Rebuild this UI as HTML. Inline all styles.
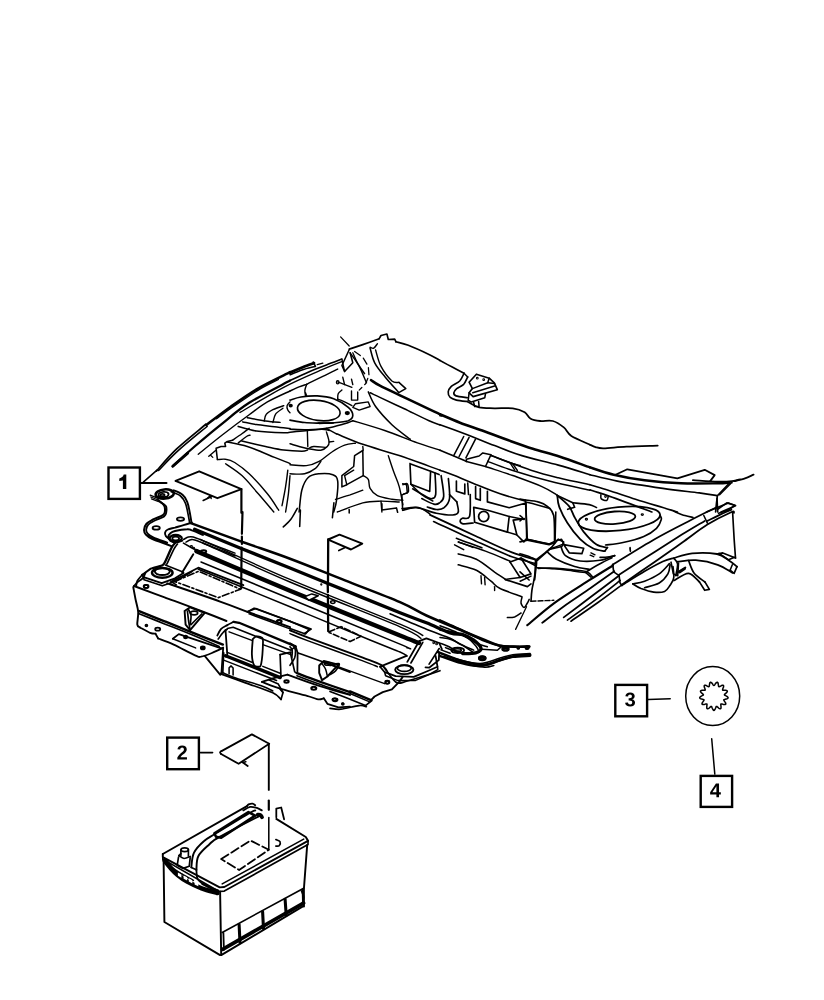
<!DOCTYPE html>
<html><head><meta charset="utf-8"><title>Diagram</title>
<style>
html,body{margin:0;padding:0;background:#fff;}
body{width:824px;height:1000px;overflow:hidden;font-family:"Liberation Sans",sans-serif;}
svg{display:block;}
svg path,svg ellipse,svg rect,svg line{fill:none;stroke:#000;stroke-linecap:round;stroke-linejoin:round;}
svg text{font-family:"Liberation Sans",sans-serif;font-weight:bold;fill:#000;stroke:none;}
</style></head><body>
<svg width="824" height="1000" viewBox="0 0 824 1000">
<rect x="0" y="0" width="824" height="1000" style="fill:#fff;stroke:none"/>
<g><!-- 00_callouts -->
<rect x="108.5" y="467.5" width="31.4" height="31.4" stroke-width="2.4" style="stroke-linejoin:miter"/>
<path d="M126.3 474.6L123.7 474.6C123.2 476.6 121.6 478 119.3 478.4L119.3 481L122.9 480.4L122.9 489.1L126.3 489.1Z" style="fill:#000;stroke:none"/>
<path d="M141 483.1L166.5 483.1" stroke-width="2"/>
<rect x="167.2" y="737.6" width="31.7" height="31.6" stroke-width="2.4" style="stroke-linejoin:miter"/>
<path d="M177.33 759.4V757.5Q177.87 756.31 178.86 755.19Q179.85 754.07 181.36 752.85Q182.8 751.68 183.38 750.91Q183.96 750.15 183.96 749.42Q183.96 747.62 182.16 747.62Q181.28 747.62 180.81 748.1Q180.35 748.57 180.21 749.52L177.45 749.36Q177.68 747.45 178.88 746.44Q180.08 745.44 182.14 745.44Q184.36 745.44 185.55 746.45Q186.75 747.47 186.75 749.3Q186.75 750.27 186.37 751.05Q185.98 751.83 185.39 752.49Q184.79 753.15 184.07 753.73Q183.34 754.3 182.65 754.85Q181.97 755.4 181.41 755.95Q180.85 756.51 180.57 757.14H186.96V759.4Z" style="fill:#000;stroke:none"/>
<path d="M200.4 752.6L212.6 752.6" stroke-width="1.6"/>
<rect x="615.3" y="684.9" width="31.8" height="31.4" stroke-width="2.4" style="stroke-linejoin:miter"/>
<path d="M635.04 702.58Q635.04 704.52 633.77 705.57Q632.5 706.62 630.16 706.62Q627.94 706.62 626.63 705.6Q625.32 704.58 625.1 702.66L627.89 702.42Q628.15 704.4 630.15 704.4Q631.13 704.4 631.68 703.91Q632.23 703.42 632.23 702.42Q632.23 701.5 631.56 701.01Q630.9 700.52 629.59 700.52H628.63V698.3H629.53Q630.71 698.3 631.31 697.82Q631.9 697.34 631.9 696.44Q631.9 695.59 631.43 695.11Q630.96 694.62 630.05 694.62Q629.2 694.62 628.68 695.09Q628.15 695.56 628.08 696.42L625.33 696.22Q625.55 694.45 626.81 693.44Q628.07 692.44 630.1 692.44Q632.26 692.44 633.47 693.41Q634.69 694.38 634.69 696.1Q634.69 697.39 633.93 698.22Q633.17 699.05 631.75 699.32V699.36Q633.33 699.54 634.18 700.4Q635.04 701.25 635.04 702.58Z" style="fill:#000;stroke:none"/>
<path d="M648.3 699.6L670.2 698.8" stroke-width="1.5"/>
<rect x="700.7" y="775.9" width="31.4" height="31" stroke-width="2.4" style="stroke-linejoin:miter"/>
<path d="M719.02 794.4V797.2H716.4V794.4H710.14V792.34L715.95 783.44H719.02V792.36H720.85V794.4ZM716.4 787.85Q716.4 787.33 716.44 786.71Q716.47 786.1 716.49 785.92Q716.23 786.47 715.57 787.5L712.38 792.36H716.4Z" style="fill:#000;stroke:none"/>
<path d="M711.7 738.8L714.8 774.1" stroke-width="1.5"/>
<ellipse cx="712.7" cy="696.1" rx="27" ry="29.5" stroke-width="1.5"/>
</g>
<g><!-- 01_gear -->
<path d="M726.4 696.1L727.1 696.5L727.6 696.9L728 697.4L728.1 697.8L727.9 698.2L727.4 698.6L726.8 698.9L726 699.1L725.2 699.3L724.5 699.4L724.1 699.6L723.8 699.9L723.8 700.2L724.1 700.7L724.5 701.2L724.9 701.9L725.4 702.6L725.7 703.2L725.8 703.8L725.7 704.2L725.3 704.5L724.7 704.6L724 704.5L723.2 704.4L722.4 704.1L721.8 704L721.3 703.9L720.9 704L720.8 704.4L720.8 704.9L720.9 705.6L721 706.3L721 707.1L721 707.9L720.9 708.4L720.5 708.8L720.1 708.8L719.5 708.6L718.9 708.3L718.3 707.7L717.7 707.2L717.2 706.7L716.8 706.4L716.4 706.4L716.2 706.6L715.9 707.1L715.7 707.7L715.4 708.5L715.1 709.2L714.7 709.8L714.3 710.3L713.9 710.4L713.5 710.3L713.1 709.8L712.7 709.2L712.4 708.5L712.1 707.7L711.9 707.1L711.6 706.6L711.4 706.4L711 706.4L710.6 706.7L710.1 707.2L709.5 707.7L708.9 708.3L708.3 708.6L707.7 708.8L707.3 708.8L706.9 708.4L706.8 707.9L706.8 707.1L706.8 706.3L706.9 705.6L707 704.9L707 704.4L706.9 704L706.5 703.9L706 704L705.4 704.1L704.6 704.4L703.8 704.5L703.1 704.6L702.5 704.5L702.1 704.2L702 703.8L702.1 703.2L702.4 702.6L702.9 701.9L703.3 701.2L703.7 700.7L704 700.2L704 699.9L703.7 699.6L703.3 699.4L702.6 699.3L701.8 699.1L701 698.9L700.4 698.6L699.9 698.2L699.7 697.8L699.8 697.4L700.2 696.9L700.7 696.5L701.4 696.1L702.2 695.7L702.8 695.4L703.2 695.1L703.4 694.8L703.3 694.5L702.9 694.1L702.4 693.6L701.8 693.1L701.2 692.6L700.8 692L700.5 691.5L700.5 691L700.8 690.7L701.4 690.5L702.1 690.3L702.9 690.3L703.7 690.3L704.4 690.3L704.9 690.3L705.2 690.1L705.2 689.7L705.1 689.2L704.9 688.6L704.6 687.8L704.3 687.1L704.2 686.4L704.2 685.8L704.4 685.4L704.8 685.2L705.4 685.3L706.1 685.5L706.8 685.9L707.5 686.2L708.1 686.6L708.6 686.7L709 686.7L709.2 686.4L709.3 685.9L709.4 685.3L709.5 684.5L709.6 683.7L709.8 683L710.1 682.5L710.5 682.2L710.9 682.3L711.4 682.6L711.9 683.1L712.4 683.7L712.8 684.4L713.2 685L713.6 685.4L713.9 685.5L714.2 685.4L714.6 685L715 684.4L715.4 683.7L715.9 683.1L716.4 682.6L716.9 682.3L717.3 682.2L717.7 682.5L718 683L718.2 683.7L718.3 684.5L718.4 685.3L718.5 685.9L718.6 686.4L718.8 686.7L719.2 686.7L719.7 686.6L720.3 686.2L721 685.9L721.7 685.5L722.4 685.3L723 685.2L723.4 685.4L723.6 685.8L723.6 686.4L723.5 687.1L723.2 687.8L722.9 688.6L722.7 689.2L722.6 689.7L722.6 690.1L722.9 690.3L723.4 690.3L724.1 690.3L724.9 690.3L725.7 690.3L726.4 690.5L727 690.7L727.3 691L727.3 691.5L727 692L726.6 692.6L726 693.1L725.4 693.6L724.9 694.1L724.5 694.5L724.4 694.8L724.6 695.1L725 695.4L725.6 695.7Z" stroke-width="1.5"/>
</g>
<g><!-- 10_b1 -->
<path d="M143.3 482.2 L157.3 469.8" stroke-width="1.54"/>
<path d="M156.4 471.1C159.7 467.4 168.2 457 176.4 449.2C184.7 441.4 201 428.5 205.9 424.3" stroke-width="1.79"/>
<path d="M158.6 470.5C161.8 467.3 169.8 458.2 177.9 450.9C185.9 443.5 202.1 430.6 207 426.5" stroke-width="1.54"/>
<path d="M205.9 424.3L207 426.5" stroke-width="1.28"/>
<path d="M206.4 425C210.5 421.9 222.4 412.6 231 406.5C239.7 400.3 248.5 394 258.3 388.3C268.2 382.6 284.7 374.9 290 372.2" stroke-width="2.56"/>
<path d="M216.5 418.8C218.9 417.1 224 413.1 231 408.3C238 403.5 250.4 394.9 258.3 390.1C266.2 385.3 275 381.3 278.4 379.5" stroke-width="1.28"/>
<path d="M172.8 466.2C176.4 462.9 186.4 453.6 194.6 446.5C202.8 439.4 212.8 431 221.9 423.8C231 416.5 237.9 410 249.2 402.8C260.6 395.6 283.2 384.3 290 380.6" stroke-width="2.3"/>
<path d="M172.8 466.2 L187.7 453.1" stroke-width="2.82"/>
<path d="M198.3 454.2C202.2 451 213.4 441.8 221.9 435.2C230.4 428.6 241.6 420.2 249.2 414.7C256.8 409.1 260.6 405.9 267.4 401.9C274.2 398 286.2 392.8 290 391" stroke-width="1.41"/>
<path d="M208.8 456.2L215.6 450.5" stroke-width="1.41"/>
<path d="M210.6 455.3L212.8 457.4" stroke-width="1.28"/>
<path d="M217.4 459.6L216.1 448.3L221 446.5L225.6 446.5L224.8 443.2L227.4 441.4L232.5 440.3" stroke-width="1.54"/>
<path d="M232.5 440.3C234.1 439.2 239.2 435.8 241.9 433.8C244.7 431.8 248 429.2 249.2 428.3" stroke-width="1.41"/>
<path d="M238.3 442.9C239.7 441.8 244.5 437.8 246.5 436.5C248.5 435.2 249.5 435.4 250.1 435.2" stroke-width="1.41"/>
<path d="M217.4 459.6C218.7 459.6 222.7 458.8 225.6 459.3C228.4 459.7 230.7 460.1 234.7 462.5C238.6 465 243.8 468.6 249.2 473.8C254.7 479 262.5 487.8 267.4 493.8C272.4 499.9 276.8 507.5 278.7 510.2" stroke-width="1.41"/>
<path d="M225.6 463.8C228.3 465.8 236.5 470.6 241.9 475.6C247.4 480.6 253 487.8 258.3 493.8C263.6 499.9 271.2 509 273.8 512" stroke-width="1.41"/>
<path d="M264.3 421C264.6 420 264.6 416.5 266 414.7C267.4 412.8 269.9 411.3 272.9 409.7C275.9 408.2 282 406.2 283.8 405.6" stroke-width="1.41"/>
<path d="M272.9 422.5C273.4 421.1 274 416.5 275.6 414.1C277.3 411.7 281.7 409.3 282.9 408.3" stroke-width="1.41"/>
<path d="M290 401.9C289.5 402.5 287.5 404.2 287.1 405.6C286.7 406.9 287.3 408.9 287.8 410.1C288.3 411.3 289.6 412.4 290 412.8" stroke-width="1.41"/>
<path d="M287.8 470.2C287.5 472.9 286.6 480.6 285.6 486.6C284.7 492.5 282.6 502.5 282 505.7" stroke-width="1.41"/>
<path d="M290 475.6C289.7 478.7 289.1 487.8 288.4 493.8C287.6 499.9 286.1 509 285.6 512" stroke-width="1.41"/>
</g>
<g><!-- 11_b2 -->
<path d="M290 372.6C292.1 371.7 298.7 368.9 302.7 367.3C306.7 365.7 312.1 363.8 314 363.1" stroke-width="2.82"/>
<path d="M313.3 362L315.5 366.4" stroke-width="1.54"/>
<path d="M290 374.8C292.1 373.9 298.6 371.1 302.7 369.7C306.9 368.3 313.1 367 315.1 366.4" stroke-width="1.54"/>
<path d="M290 380.6C293 379.2 302.1 374.8 308.2 372.2C314.3 369.6 320.8 367.1 326.4 365C332 362.8 339.3 360.1 341.9 359.1" stroke-width="1.66"/>
<path d="M317.3 364.6 L322.8 363.1" stroke-width="1.41"/>
<path d="M290 391C291.5 390.3 296.3 387.9 299.1 386.8C301.9 385.7 305.5 384.7 306.7 384.3" stroke-width="1.41"/>
<path d="M306.7 384.3C309.4 382.9 317.6 378.9 322.8 376.4C327.9 373.9 335.2 370.4 337.7 369.1" stroke-width="1.41"/>
<path d="M306.7 384.3C306.4 385.2 305.1 388.1 304.9 390.1C304.7 392 305.4 394.9 305.5 395.9" stroke-width="1.41"/>
<path d="M349.2 349.7L341.9 365.5L344.6 371.5L352.8 362.8L350.1 352.8" stroke-width="1.54"/>
<path d="M341.9 359.1L344.6 371.5" stroke-width="1.41"/>
<path d="M352.8 352.8C353.6 354.4 355.4 359.3 357.4 362.8C359.3 366.3 363.4 371.9 364.6 373.7" stroke-width="1.41"/>
<path d="M340.6 336.9L349.2 346" stroke-width="1.28"/>
<path d="M354.6 351.5L362.8 357.3L368.3 366.4L369 375.5L365.6 383.7L359.2 390.1" stroke-width="1.28" stroke-dasharray="7,4"/>
<path d="M349.2 349.1C351.4 348.4 357.8 346.3 362.8 344.6C367.8 342.8 376.5 339.7 379.2 338.7" stroke-width="1.66"/>
<path d="M379.2 338.7L381 335.5L386.9 334L388.3 339.5L394.7 339.1L396 341.8" stroke-width="1.66"/>
<path d="M396 341.8C398 342.4 402.7 343.1 408.3 345.3C414 347.5 424.7 352.4 430 354.9C435.3 357.5 438.3 359.5 440 360.4" stroke-width="1.66"/>
<path d="M370.1 347.3C370.7 347.4 372.5 348.8 373.7 348.2C375 347.6 376.8 344.4 377.4 343.7" stroke-width="1.41"/>
<path d="M370.1 348.2C370.9 350.6 372.2 358.1 374.7 362.8C377.1 367.5 380.7 371.6 384.7 376.4C388.6 381.3 396 389.3 398.3 391.9" stroke-width="1.54"/>
<path d="M398.3 392.8L405.8 388.6L398.9 382.4" stroke-width="1.54"/>
<path d="M375.6 350C376.5 352.8 378.3 361.3 381 366.4C383.8 371.6 389 378.3 391.9 381C394.9 383.6 397.7 382.2 398.9 382.4" stroke-width="1.41"/>
<path d="M350.1 352.8C351.6 355 356.4 361.4 359.2 366.4C361.9 371.4 365.2 380.1 366.5 382.8" stroke-width="1.41"/>
<path d="M371 380.1C372.5 381 374.4 382.8 379.9 385.7C385.5 388.6 396.2 393.5 404.3 397.4C412.4 401.2 422.6 406 428.5 408.8C434.5 411.6 438.1 413.4 440 414.3" stroke-width="2.56"/>
<path d="M368.3 391.9C369.5 394.3 371.6 401 375.6 406.5C379.5 411.9 386.2 419.2 391.9 424.7C397.7 430.1 407.1 436.8 410.2 439.2" stroke-width="1.54"/>
<path d="M337.7 381.9L351.9 387.3" stroke-width="1.41"/>
<ellipse cx="337.7" cy="382.2" rx="1.3" ry="1.6" stroke-width="1.28"/>
<path d="M351.5 391L351.5 400.1L357.7 400.1L357.7 391.9" stroke-width="1.41"/>
<path d="M342.8 377.3L344.6 384.6" stroke-width="1.41"/>
<path d="M351.5 379.2L352.8 384.6" stroke-width="1.41"/>
<path d="M341.9 390.1C341.3 390.7 338.9 392.2 338.2 393.7C337.5 395.2 337.8 398.3 337.7 399.2" stroke-width="1.41"/>
<path d="M337.7 399.2C338.9 399.6 342.2 400.8 344.6 401.9C347 403 350.7 404.9 351.9 405.6" stroke-width="1.41"/>
<path d="M355.5 403.7L368.3 401.9L370.1 406.5L359.2 410.1L352.8 407.4L355.5 403.7" stroke-width="1.41"/>
<path d="M290 400.1C291.8 399.6 296.4 397.7 300.9 397C305.5 396.3 311.8 395.6 317.3 395.9C322.8 396.2 328.5 396.9 333.7 398.8C338.9 400.7 345.1 404.6 348.3 407.4C351.4 410.1 352.8 413 352.8 415.2C352.8 417.4 351.4 419.4 348.3 420.7C345.1 421.9 338.5 422.4 333.7 422.8C328.8 423.3 321.6 423.1 319.1 423.2" stroke-width="1.66"/>
<path d="M319.1 423.2C316.7 423.1 309.4 423 304.6 422.5C299.7 422 292.4 420.5 290 420.1" stroke-width="1.66"/>
<ellipse cx="318.8" cy="410.5" rx="21.5" ry="10" stroke-width="1.66" transform="rotate(8 318.8 410.5)"/>
<path d="M317.3 422.5L333.7 421.9L333.7 423.6L319.1 424.3Z" style="fill:#000;stroke:none"/>
<ellipse cx="347.3" cy="413" rx="1.6" ry="1.1" stroke-width="2.05"/>
<ellipse cx="290.7" cy="405.6" rx="1.1" ry="0.9" stroke-width="2.05"/>
<path d="M306.7 395.9 L305.5 392.8" stroke-width="1.41"/>
<path d="M290 429.2C293 429.3 302.1 429.9 308.2 429.8C314.3 429.6 320.3 429.3 326.4 428.3C332.5 427.3 340.2 425 344.6 423.8C349 422.5 351.4 421.2 352.8 420.7" stroke-width="1.54"/>
<path d="M352.8 420.7C358.1 422.3 373.9 426.8 384.7 430.5C395.4 434.2 408.2 439.6 417.4 442.9C426.7 446.1 436.2 448.9 440 450.2" stroke-width="1.54"/>
<path d="M336.4 433.8C340.8 435.5 352.4 440.7 362.8 444.3C373.3 448 386.4 451.3 399.2 455.6C412.1 459.9 433.2 467.8 440 470.2" stroke-width="1.54"/>
<path d="M326.4 428.3 L336.4 433.8" stroke-width="1.41"/>
<path d="M307.3 429.8L307.8 446.5" stroke-width="1.41"/>
<path d="M290 443.8C291.5 444.2 296.1 445.7 299.1 446.5C302.1 447.3 304.6 448.1 308.2 448.7C311.8 449.3 317.8 450.5 320.9 450.2C324.1 449.8 326 447.9 327.3 446.5C328.7 445.1 329.3 444.4 329.1 442C329 439.5 326.9 433.6 326.4 431.9" stroke-width="1.41"/>
<path d="M308.2 448.7C309.1 448.3 310.6 446.7 313.7 446.5C316.7 446.3 324.3 447.3 326.4 447.4" stroke-width="1.41"/>
<path d="M329.1 442 L333.7 441.4" stroke-width="1.41"/>
<path d="M290 464.7C292.7 464.9 301.5 466.2 306.4 465.6C311.2 465.1 314.9 463.7 319.1 461.4C323.4 459.2 327.6 454.7 331.9 452C336.1 449.2 340.7 446.5 344.6 445.1C348.6 443.6 353.7 443.5 355.5 443.2" stroke-width="1.41"/>
<path d="M290 473.8C292.4 473.8 300.3 474.7 304.6 473.8C308.8 472.9 312.8 470.4 315.5 468.4C318.2 466.3 320 462.6 320.9 461.4" stroke-width="1.41"/>
<path d="M299.1 512C299.6 508.4 300.3 496 301.8 490.2C303.4 484.4 305.3 480.2 308.2 477.5C311.1 474.7 315 474.3 319.1 473.8C323.2 473.4 329.7 473.5 332.8 474.7C335.9 475.9 337.1 476.7 337.7 481.1C338.3 485.5 337.1 496 336.4 501.1C335.8 506.3 334.1 510.2 333.7 512" stroke-width="1.54"/>
<path d="M341.9 475.6L353.7 466.5L354.6 455.6L362.8 450.5L363.2 475.6L346.8 484.7L341.9 486.9L341.9 475.6" stroke-width="1.54"/>
<path d="M346.8 484.7L344.6 475.6L353.7 470.2" stroke-width="1.41"/>
<path d="M363.2 475.6C364 476.2 367.1 477.2 368.3 479.3C369.4 481.4 368.6 485.7 370.1 488.4C371.6 491.1 373.7 493.8 377.4 495.7C381 497.5 387.7 498.5 391.9 499.3C396.2 500.1 401.1 500.1 402.9 500.2" stroke-width="1.41"/>
<path d="M388.3 455.6C389.2 458.3 391.9 466.8 393.8 472C395.6 477.2 397.7 481.1 399.2 486.6C400.7 492 402.3 501.7 402.9 504.8" stroke-width="1.41"/>
<path d="M402.9 484.7C403.6 484.6 406.5 482.6 407.4 483.8C408.3 485 408.9 490.4 408.3 492C407.7 493.7 404.5 493.5 403.8 493.8" stroke-width="1.41"/>
<path d="M335.5 499.3C337.9 498.5 345.5 496.3 350.1 494.8C354.6 493.2 360.7 491 362.8 490.2" stroke-width="1.41"/>
<path d="M337.3 512C341.6 510.5 355.5 504.8 362.8 502.9C370.1 501.1 375 501.3 381 501.1C387.1 501 396.2 501.9 399.2 502" stroke-width="1.41"/>
<path d="M381 501.1L381.9 512" stroke-width="1.41"/>
<path d="M363.2 450.2 L362.8 446.5" stroke-width="1.41"/>
<path d="M370.1 392.8C371.7 393.6 374.2 394.7 379.9 397.4C385.6 400 396.2 405 404.3 408.8C412.4 412.7 422.6 417.8 428.5 420.5C434.5 423.2 438.1 424.3 440 425" stroke-width="1.54"/>
</g>
<g><!-- 12_b3 -->
<path d="M440 360.6C442.1 361.7 448.7 365.2 452.7 367.3C456.7 369.4 462.1 372.3 464 373.3" stroke-width="1.66"/>
<path d="M464 373.3C463.3 374.6 461.8 378.8 459.7 381C457.5 383.2 453.2 384.6 451.3 386.4C449.4 388.3 448.4 390.1 448.2 391.9C448 393.7 448.8 396 450.2 397.4C451.6 398.7 453.5 399.4 456.4 400.1C459.2 400.8 465.5 401.3 467.3 401.5" stroke-width="1.66"/>
<path d="M467.7 377C467 378.2 465.5 382.3 463.7 384.3C461.8 386.2 458.4 387.2 456.7 388.6C455.1 390 454 391.6 453.8 392.8C453.7 394 453.8 395.1 456 395.9C458.3 396.7 465.4 397.4 467.3 397.7" stroke-width="1.66"/>
<path d="M464 373.3L467.7 377" stroke-width="1.54"/>
<path d="M469.1 382.2L476.4 374.2L489.2 378.2L494.3 382.8L497.3 389.7L473.1 396.6L469.1 392.8L472.4 388.6L469.1 382.2" stroke-width="1.66"/>
<path d="M472.4 388.6L487.7 382.8L489.2 378.2" stroke-width="1.54"/>
<path d="M487.7 382.8L494.6 383.5" stroke-width="1.54"/>
<path d="M472.8 392.8L494.6 386.1" stroke-width="1.54"/>
<ellipse cx="477.3" cy="378.2" rx="0.5" ry="0.5" stroke-width="1.79"/>
<ellipse cx="483.7" cy="379.7" rx="0.5" ry="0.5" stroke-width="1.79"/>
<path d="M469.1 392.8L468.2 400.1L471.3 402.1L484.8 397.7L485.5 393.7" stroke-width="1.54"/>
<path d="M473.7 402.5L474.6 406.5L479.1 406.5L478.6 401.4" stroke-width="1.54"/>
<path d="M467.3 401.5C469.3 402.5 474.6 406.2 479.1 407.4C483.7 408.5 489 408.1 494.6 408.3C500.2 408.4 507.8 407.6 512.8 408.3C517.8 408.9 521.7 410.5 524.7 412.3C527.6 414 528.1 417.4 530.7 418.8C533.2 420.3 536.4 420.7 540.1 421C543.8 421.4 548.9 420 552.9 421C556.8 422.1 560.7 424.9 563.8 427.4C566.9 429.9 567.1 433.1 571.4 436C575.8 438.8 586.9 443.2 590 444.7" stroke-width="1.79"/>
<path d="M440 414.3C443.3 415.7 452.7 419.8 460 422.7C467.4 425.5 476.2 428.3 484.2 431.2C492.3 434.2 500.3 437.4 508.5 440.3C516.6 443.2 524.3 446 532.8 448.7C541.4 451.4 550.4 453.6 560 456.7C569.5 459.8 585 465.7 590 467.4" stroke-width="2.56"/>
<path d="M440 424.7C444.6 426.3 458.2 431.2 467.3 434.7C476.4 438.2 485.5 442.1 494.6 445.6C503.7 449.1 511.3 452.4 521.9 455.6C532.5 458.9 547 461.9 558.3 465.1C569.7 468.3 584.7 473.1 590 474.7" stroke-width="1.66"/>
<path d="M440 415.6 L441.8 415.9" stroke-width="1.66"/>
<path d="M463.7 436.5L453.7 455.6" stroke-width="1.54"/>
<path d="M469.1 437.4L459.1 456.5" stroke-width="1.54"/>
<path d="M475.5 439.2L465.9 457.8" stroke-width="1.54"/>
<path d="M466.4 459.3L479.1 456L482.8 452.9L491 454.7L485.5 466.5L466.4 461.4L466.4 459.3" stroke-width="1.54"/>
<path d="M491 455.3C494 456.5 504.3 460.8 509.2 462.5C514 464.3 518.3 465.1 520.1 465.6" stroke-width="1.54"/>
<path d="M510.1 462.9L514.6 469.8" stroke-width="1.41"/>
<path d="M512.8 463.8L517.4 470.5" stroke-width="1.41"/>
<path d="M491 455.6C497.6 458 519.8 466.5 531 470.2C542.3 473.9 548.5 475.4 558.3 477.8C568.2 480.3 584.7 483.6 590 484.7" stroke-width="1.54"/>
<path d="M487.7 461.4C491.9 463 502.6 467.3 512.8 470.5C523.1 473.8 536.4 477.8 549.2 481.1C562.1 484.4 583.2 488.7 590 490.2" stroke-width="1.54"/>
<path d="M440 450.2C442.1 451.1 448.3 453.7 452.7 455.6C457.1 457.5 464.1 460.5 466.4 461.4" stroke-width="1.66"/>
<path d="M440 470.2C442.4 471.1 448.5 473.2 454.6 475.6C460.6 478.1 468.8 481.7 476.4 484.7C484 487.8 491.9 491.1 500.1 493.8C508.3 496.6 521.3 499.9 525.6 501.1" stroke-width="1.66"/>
<path d="M485.5 466.5C490.1 468.1 503.4 472.3 512.8 475.6C522.2 479 534.7 483.4 541.9 486.6C549.2 489.7 554.1 493.4 556.5 494.8" stroke-width="1.54"/>
</g>
<g><!-- 13_b4 -->
<path d="M590 444.7C590.9 445.1 593.2 446.5 595.5 447.1C597.7 447.7 598.5 448.4 603.7 448.3C608.8 448.3 617.4 447.1 626.4 446.7C635.4 446.2 652.5 445.8 657.7 445.6" stroke-width="1.79"/>
<path d="M590 467.4C593.9 468.7 604.6 472.6 613.7 474.7C622.8 476.9 633.4 478.8 644.6 480.2C655.8 481.6 668.9 482.8 681 483.3C693.2 483.8 709.4 483.4 717.4 483.3C725.5 483.2 727.3 482.7 729.3 482.6" stroke-width="2.43"/>
<path d="M692.9 480.2C697 480.4 710.9 481.5 717.4 481.6C724 481.8 728.2 481.5 732 481.1C735.8 480.7 738.7 479.6 740 479.3" stroke-width="1.79"/>
<path d="M615.5 474.7L627.3 469.3L677.4 478.4L704.7 469.8L714.7 475.1L710.2 481.1" stroke-width="1.79"/>
<path d="M590 474.7C594.6 475.8 605.2 478.8 617.3 481.1C629.4 483.4 649.2 486.4 662.8 488.4C676.5 490.4 690.1 491.7 699.2 492.9C708.3 494.1 714.4 495.2 717.4 495.7" stroke-width="1.66"/>
<path d="M717.4 495.7L728.7 483.8L732 482.6" stroke-width="1.66"/>
<path d="M719.6 494.8L730.5 483.8" stroke-width="1.54"/>
<path d="M717.4 495.7C717.3 496.9 716.8 500.2 716.5 502.9C716.2 505.7 715.8 510.5 715.6 512" stroke-width="1.66"/>
<path d="M590 484.7C593 485.7 600.6 487.8 608.2 490.2C615.8 492.6 626.4 496.4 635.5 499.3C644.6 502.2 655.8 505.4 662.8 507.5C669.8 509.6 675 511.3 677.4 512" stroke-width="1.66"/>
<path d="M590 489.8C594.2 491.3 606.4 495.1 615.5 498.4C624.6 501.6 638.5 507 644.6 509.3C650.7 511.6 650.7 511.6 651.9 512" stroke-width="1.66"/>
<path d="M600.9 494.8C601 495.5 600.3 498 601.3 498.9C602.3 499.9 605.6 500.8 606.7 500.4C607.9 500 608 497.2 608.2 496.6" stroke-width="1.54"/>
<ellipse cx="605.5" cy="496.6" rx="0.5" ry="0.5" stroke-width="1.66"/>
<path d="M706.5 512L728.4 502.9L735.6 505.7L721.1 512" stroke-width="1.66"/>
</g>
<g><!-- 14_b5 -->
<path d="M734.1 481.2C735.9 480.7 741.8 479.4 745 478.3C748.2 477.2 752.1 475.2 753.6 474.6" stroke-width="1.79"/>
<path d="M717 498.3L717.7 512" stroke-width="1.66"/>
<path d="M717.7 509.2L726.8 502.9L735 505.2L728.6 510.1L718.6 513.2" stroke-width="1.66"/>
<path d="M674 511.4C675.8 512.1 681.7 514.6 684.9 515.6C688.1 516.6 691.7 517.1 693.1 517.4" stroke-width="1.54"/>
<path d="M732.6 512C732.9 516.4 733.6 530.7 734.1 538.4C734.6 546 735.3 554.7 735.5 558" stroke-width="1.66"/>
<path d="M735.5 558L722.8 552.9L717 554" stroke-width="1.66"/>
<path d="M719.1 553.3L728.6 559.8L734.4 557.3" stroke-width="1.54"/>
<path d="M674 558C677 557.2 685 554 692.2 553.3C699.4 552.6 710.9 552.9 717 554C723 555.2 725.3 558.1 728.6 560.2C732 562.3 735.6 565.5 737 566.6" stroke-width="1.79"/>
<path d="M737 566.6L734.1 573.3L730.1 570.2" stroke-width="1.66"/>
<path d="M677.6 561.7C680.7 561.4 689.2 559.7 695.8 560.2C702.5 560.7 711.6 562.6 717.7 564.8C723.8 566.9 730.1 571.6 732.6 572.9" stroke-width="1.79"/>
<path d="M730.1 570.2L732.3 564.8" stroke-width="1.54"/>
<path d="M674 558.4C674.6 559.3 677.3 561 677.6 563.8C677.9 566.7 676.1 573.7 675.8 575.7" stroke-width="1.66"/>
<path d="M688.6 560.6C689.5 562.6 691.3 569.4 694 572.9C696.8 576.5 703.1 580.5 704.9 582" stroke-width="1.66"/>
<path d="M678 572L685.3 567.5" stroke-width="2.05"/>
<path d="M674 580.6C676.4 579.4 684.3 573.1 688.6 573.3C692.8 573.6 697.7 580.6 699.5 582" stroke-width="1.66"/>
</g>
<g><!-- 15_lab1 -->
<path d="M175.5 480.9L199.2 471.3L241.4 489.1L217.4 498.2L175.5 480.9" stroke-width="1.92"/>
<path d="M241.4 489.1L241.4 512.8" stroke-width="2.18"/>
<path d="M203.2 500.4L211.6 496.4" stroke-width="1.66"/>
<path d="M207.4 498.2L210.1 495.7L211.2 498.6" stroke-width="1.41"/>
</g>
<g><!-- 16_lrails -->
<path d="M242.8 421.9C245 422.3 251.1 423.8 256.4 424.6C261.7 425.4 269 426.1 274.6 426.8C280.2 427.5 287.5 428.3 290.1 428.6" stroke-width="1.54"/>
<path d="M238.2 426.4C241.2 427.2 248.8 429.9 256.4 431C264 432 278.1 432.6 283.7 432.8C289.3 433 286.1 432.7 290.1 432.3C294 431.9 302.1 430.9 307.4 430.4C312.7 430 318.3 429.3 321.9 429.3C325.6 429.3 328 430.3 329.2 430.4" stroke-width="1.54"/>
<path d="M241.8 441C245.8 441.9 258.5 444.9 265.5 446.5C272.5 448 277.6 449.3 283.7 450.1C289.8 450.9 298 451.2 301.9 451.2C305.9 451.2 306.5 450.3 307.4 450.1" stroke-width="1.54"/>
<path d="M227.3 441.9C230.6 442.7 239.4 443.9 247.3 446.5C255.2 449 267.5 454.5 274.6 457.4C281.7 460.2 287.5 462.5 290.1 463.6" stroke-width="1.54"/>
<path d="M247.3 417.7C250.3 418.2 260.1 420.2 265.5 421C271 421.8 277.6 422.2 280.1 422.4" stroke-width="1.41"/>
<path d="M240 412.4C247.3 408.2 270.1 394.4 283.7 387.3C297.3 380.2 311.8 374.1 321.5 369.9C331.3 365.6 338.5 362.9 341.9 361.6" stroke-width="1.41"/>
</g>
<g><!-- 23_c3 -->
<path d="M430 514.9C437.6 518.4 461.8 529.8 475.5 536C489.2 542.3 501.6 548.4 511.9 552.4C522.2 556.4 533.1 558.8 537.4 560.1" stroke-width="1.79"/>
<path d="M433.6 521.5C440.6 524.7 462.5 535.1 475.5 540.9C488.5 546.8 502 553.1 511.9 556.8C521.8 560.5 530.9 562.2 534.7 563.3" stroke-width="1.66"/>
<path d="M458.2 542C462.8 543.6 476.9 548 485.5 551.1C494.2 554.3 506 559.5 510.1 561.2" stroke-width="1.54"/>
<path d="M458.2 553.9C461.2 554.8 470.3 556.3 476.4 559.3C482.5 562.4 489.8 568.7 494.6 572.1C499.5 575.4 503.7 578.1 505.5 579.4" stroke-width="1.54"/>
<path d="M458.2 564.8C461.2 565.7 470.9 567.5 476.4 570.3C481.9 573 487 578.1 491 581.2C494.9 584.2 494.9 585.9 500.1 588.5C505.2 591 518.3 595.3 521.9 596.7" stroke-width="1.54"/>
<path d="M481 575.7L481.5 583.9" stroke-width="1.41"/>
<path d="M484.6 577.5L485.1 584.8" stroke-width="1.41"/>
<path d="M494.6 586.6L494.6 590.6" stroke-width="1.41"/>
<path d="M527.4 539.3L549.2 544L555.1 541.1L555.8 512" stroke-width="1.54"/>
<path d="M510.1 562.1L521 557.9L534.7 565.2" stroke-width="1.66"/>
<path d="M510.1 562.1L520.1 577.5L531 573.9L521 558.2" stroke-width="1.66"/>
<path d="M520.1 577.5L505.2 579.4" stroke-width="1.54"/>
<path d="M505.5 579.7L527.4 586.6L531 583.9" stroke-width="1.66"/>
<path d="M520.1 581.2L531 576.1" stroke-width="1.54"/>
<path d="M535.6 560.2C535.4 562.8 535.3 570.7 534.7 575.7C534.1 580.7 532.5 586 531.9 590.3C531.3 594.5 531.2 599.4 531 601.2" stroke-width="1.66"/>
<path d="M531 601.2L541.9 600.8L553.8 600.3" stroke-width="1.41" stroke-dasharray="5,2"/>
<path d="M535.6 560.2C537.1 559 542 555.1 544.7 553C547.3 550.8 550.3 548.4 551.4 547.5" stroke-width="1.54"/>
<path d="M549.2 549.3L556.5 546.6L563.8 543.9L561.6 539.3L556.5 540.4" stroke-width="1.54"/>
<path d="M526.5 606.7L515.6 629.4" stroke-width="1.28"/>
<path d="M507.4 617.6C508.6 617.5 512.4 617.6 514.6 616.9C516.9 616.1 520 613.7 521 613" stroke-width="1.54"/>
<path d="M521.9 597.6C521.8 598.5 520.6 601.4 521 603C521.4 604.7 523 607.6 524.1 607.6C525.2 607.6 526.5 604.4 527.4 603C528.2 601.7 528.9 600 529.2 599.4" stroke-width="1.54"/>
<path d="M440 620.3C443 621.7 450.6 625 458.2 628.5C465.8 632 478.5 638.4 485.5 641.3C492.5 644.1 495.5 644.9 500.1 645.8C504.6 646.7 508 646.6 512.8 646.7C517.7 646.9 526.5 646.7 529.2 646.7" stroke-width="2.3"/>
<path d="M440 625.8C443 627 452.1 630.2 458.2 633.1C464.3 635.9 471.6 640.8 476.4 643.1C481.3 645.4 485.5 646.1 487.3 646.7" stroke-width="1.54"/>
<path d="M440 655.8C443 656.9 451.5 660.5 458.2 662.2C464.9 663.9 473.1 666.3 480.1 666C487 665.7 494.6 661.9 500.1 660.4C505.5 658.9 507.8 657.7 512.8 656.9C517.8 656.2 527.2 656 530.1 655.8" stroke-width="2.43"/>
<path d="M440 653.1C443 654.2 451.5 657.7 458.2 659.5C464.9 661.2 473.1 663.7 480.1 663.5C487 663.2 494.6 659.5 500.1 658C505.5 656.5 507.8 655.5 512.8 654.7C517.8 654 527.2 653.8 530.1 653.6" stroke-width="1.54"/>
<ellipse cx="505.5" cy="648.9" rx="3.1" ry="1.5" stroke-width="2.3"/>
<ellipse cx="482.2" cy="658" rx="3.1" ry="1.5" stroke-width="2.3"/>
<ellipse cx="518.3" cy="647.6" rx="0.9" ry="0.7" stroke-width="2.05"/>
<ellipse cx="527.4" cy="647.6" rx="1.3" ry="1.1" stroke-width="2.3"/>
<path d="M440 630.3C442.4 630.6 450 630.9 454.6 632.2C459.1 633.4 463.7 635.2 467.3 637.6C470.9 640 474.4 644.3 476.4 646.7C478.4 649.1 478.7 651.3 479.1 652.2" stroke-width="1.54"/>
<path d="M440 637.6C441.8 637.9 447.3 638.2 450.9 639.4C454.6 640.6 458.2 642.8 461.8 644.9C465.5 647 470.9 651 472.8 652.2" stroke-width="1.54"/>
<path d="M440 643.1C441.5 643.7 446.1 645.2 449.1 646.7C452.1 648.2 454.9 651 458.2 652.2C461.5 653.4 465.6 654 469.1 654C472.6 654 477.5 652.5 479.1 652.2" stroke-width="1.54"/>
<path d="M445.5 647.6C446.7 648.1 450.3 649.8 452.7 650.4C455.2 651 458.8 651.1 460 651.3" stroke-width="1.54"/>
</g>
<g><!-- 24_c4 -->
<path d="M630.1 547.5L630.4 551.1" stroke-width="1.41"/>
<path d="M621.9 585.2C625.7 582.9 637.8 575.3 644.6 571.3C651.4 567.4 657.9 563.7 662.8 561.5C667.7 559.3 672.1 558.6 673.9 558.1" stroke-width="1.79"/>
<path d="M632.8 583.9C634.8 583.5 640.2 582.8 644.6 581.2C649 579.5 655.1 576.8 659.2 573.9C663.3 571 667.7 565.4 669.4 563.7" stroke-width="1.66"/>
<path d="M632.8 583.9C634.1 584.7 637.5 587.1 641 588.5C644.5 589.8 649.8 591.6 653.7 592.1C657.7 592.6 661.9 592.5 664.6 591.4C667.4 590.2 668.6 587.4 670.1 585.2C671.6 582.9 673.3 581 673.7 577.9C674.2 574.8 673.1 568.5 673 566.6" stroke-width="1.66"/>
<path d="M644.6 587.7C647 586.9 655.3 585.3 659.2 583C663.1 580.7 666.1 576.9 667.9 573.9C669.7 570.9 669.7 566.3 670.1 564.8" stroke-width="1.66"/>
<path d="M671 562.2L673.4 573.9L677.7 575.7L678.5 563" stroke-width="1.66"/>
<path d="M679.6 572.1L684.7 568.8" stroke-width="2.56"/>
<path d="M704.9 581.9L709.4 589.4L704.7 590.3L699.4 581.9" stroke-width="1.66"/>
</g>
<g><!-- 25_rails -->
<path d="M612.7 564.6C619.7 560.4 641.6 546.6 654.6 539.2C667.7 531.7 680.7 525.3 691 520C701.3 514.7 712.3 509.4 716.5 507.3" stroke-width="1.79"/>
<path d="M619.1 574.7C625 570.9 644.1 558.6 654.6 551.9C665.1 545.2 673.6 539.8 681.9 534.6C690.3 529.4 700.9 523.2 704.7 520.9" stroke-width="1.79"/>
<path d="M703.8 515.5L707.4 523.1" stroke-width="1.54"/>
<path d="M707.4 520.9C709.5 519.9 716.1 516.5 720.2 514.6C724.2 512.7 729.6 510.5 731.4 509.7" stroke-width="1.79"/>
<path d="M621.8 584.7C627.3 580.9 644.6 568.9 654.6 561.9C664.6 554.9 673.1 549 681.9 542.8C690.7 536.6 699.2 529.7 707.4 524.6C715.6 519.5 726.6 514.2 731.1 512.2C735.5 510.3 733.5 512.8 734 512.9" stroke-width="1.79"/>
<path d="M612.7 564.6L613.7 571.9L619.1 575.6L620 582.8L621.8 585.6" stroke-width="1.66"/>
</g>
<g><!-- 26_fw -->
<path d="M410 463.7L430.6 471.3L429.7 491.5L410.9 484.2L410 463.7" stroke-width="1.66"/>
<path d="M430.6 471.3 L439.1 474.6" stroke-width="1.66"/>
<path d="M435 473.1C435.1 476.7 436.2 490 435.7 494.3C435.2 498.5 433.4 498.1 432 498.6C430.6 499.1 430.5 499 427.3 497.3C424.1 495.7 415.2 490.2 412.7 488.8" stroke-width="1.66"/>
<path d="M441.1 475.7C441.6 479.1 444 491.9 443.7 496.4C443.4 501 441 501.7 439.3 503C437.7 504.3 436.8 504.8 433.9 504.1C430.9 503.4 423.8 499.5 421.8 498.6" stroke-width="1.66"/>
<path d="M448.4 478.6C448.6 481.9 450.2 493.8 449.5 498.6C448.8 503.5 446.2 505.9 444.1 507.7C441.9 509.5 439.2 509.7 436.4 509.5C433.6 509.4 428.8 507.4 427.3 507" stroke-width="1.66"/>
<path d="M410.9 484.2C412.7 486 418.2 491.8 421.8 494.6C425.5 497.4 430.9 499.9 432.8 501" stroke-width="1.54"/>
<path d="M402.7 483.7L406.6 484.8L407.3 492.8L402.7 494.6" stroke-width="1.54"/>
<path d="M401.8 494.6L402.7 510.3" stroke-width="1.54"/>
<path d="M402.7 510.3C405 509.8 410.8 507.2 416.4 507.7C422 508.2 430.3 512 436.4 513.2C442.5 514.4 449.2 515.2 452.8 515C456.4 514.8 457.6 514.3 458.3 512.1C458.9 509.9 457 503.6 456.8 501.9" stroke-width="1.66"/>
<path d="M449.5 494.6 L456.8 501.9" stroke-width="1.54"/>
<path d="M456.4 481.1L456.4 491.3L464.8 493.9L464.8 484.1" stroke-width="1.66"/>
<path d="M475.6 486.6L475.6 498.6L480.3 500.3L480.3 488.4" stroke-width="1.66"/>
<path d="M467.7 483L468.5 494.6" stroke-width="1.54"/>
<path d="M470.3 494.6C470.1 498.3 470.9 512.5 469.5 516.5C468.2 520.4 463.8 517.5 462.3 518.3C460.7 519.1 460 520.3 460.1 521.2C460.2 522.1 460.8 523.6 463 523.9C465.2 524.2 471.5 523.2 473.2 523" stroke-width="1.66"/>
<path d="M473.7 507.4L474.6 522.3L507.4 532.1L509.2 516.5L487.7 510.3L473.7 507.4" stroke-width="1.66"/>
<ellipse cx="483.7" cy="516.5" rx="5.1" ry="5.1" stroke-width="1.79"/>
<path d="M487.4 491.3L487.4 501.9L509.2 507.7L526 503L526.7 538.3L523.8 541.9L516.9 535L513.2 520.1L524.2 518.6" stroke-width="1.66"/>
<path d="M509.2 516.5L524.2 519.4" stroke-width="1.54"/>
<path d="M507.4 532.1L516.5 534.7" stroke-width="1.54"/>
<path d="M456.4 538.3C458.6 539.1 464.9 541.5 469.2 543C473.4 544.6 479.8 547 481.9 547.8" stroke-width="1.66"/>
<path d="M458.6 541.9 L472.8 547.4" stroke-width="1.54"/>
<path d="M454.6 544.9 L463.7 549.6" stroke-width="1.54"/>
<path d="M526.7 502.3C528.6 502.7 534.5 504.1 538.4 505.2C542.2 506.2 548.1 507.9 550 508.5" stroke-width="1.54"/>
<path d="M527.4 539.4C529.3 539.8 534.6 541.2 538.4 541.9C542.1 542.7 548.1 543.8 550 544.1" stroke-width="1.54"/>
</g>
<g><!-- 27_rtower -->
<ellipse cx="619.2" cy="518.8" rx="41.1" ry="11.7" stroke-width="1.79" transform="rotate(-6 619.2 518.8)"/>
<ellipse cx="615" cy="517.7" rx="20.4" ry="6.2" stroke-width="1.79" transform="rotate(-4 615 517.7)"/>
<ellipse cx="586.4" cy="519.2" rx="0.7" ry="0.5" stroke-width="1.92"/>
<ellipse cx="642.3" cy="514.6" rx="0.7" ry="0.5" stroke-width="1.92"/>
<path d="M660.2 515.5C660.4 516.2 661.9 517.4 661.3 519.5C660.7 521.6 659.5 525.4 656.5 528.3C653.6 531.1 649.6 534 643.8 536.4C638 538.9 628.3 541.4 621.9 542.8C615.6 544.2 608.3 544.6 605.6 545" stroke-width="1.66"/>
<path d="M557.3 495.5C557.6 497.3 557.5 501.9 559.1 506.4C560.8 511 563.8 517.3 567.3 522.8C570.8 528.3 575.8 534.9 580.1 539.2C584.3 543.4 588.7 546.3 592.8 548.3C596.9 550.3 602.7 550.7 604.7 551.2" stroke-width="1.79"/>
<path d="M557.3 495.5C559.3 497.3 566.3 502.8 569.2 506.4C572 510.1 572.2 513.1 574.6 517.3C577 521.6 580.1 527.3 583.7 531.9C587.4 536.4 592.5 542 596.5 544.6C600.4 547.2 605.6 547.1 607.4 547.6" stroke-width="1.79"/>
<path d="M604.7 551.2L607.4 547.6" stroke-width="1.66"/>
<path d="M557.3 495.5L572.8 502.8L574.6 507.3L567.7 509.3" stroke-width="1.66"/>
<path d="M572.8 502.8C575.5 503.1 585.2 503.8 589.2 504.6C593.1 505.4 595.2 507 596.5 507.5" stroke-width="1.66"/>
<path d="M520 499.1L525.5 500L527.3 540.1L520 541.9" stroke-width="1.66"/>
<path d="M525.5 500C527.6 500.3 534.6 500.8 538.2 501.9C541.8 502.9 544.7 504.1 547.3 506.4C549.9 508.7 552.5 509.4 553.7 515.5C554.9 521.6 554.4 538.3 554.6 542.8" stroke-width="1.66"/>
<path d="M554.6 542.8L549.1 544.6L527.3 540.1" stroke-width="1.66"/>
<path d="M520 515.5C520.5 516 522.7 517.3 522.7 518.2C522.7 519.2 520.5 520.5 520 521" stroke-width="1.54"/>
<path d="M550 549.2L558.2 539.2L563.7 541.9L561.9 546.5L550 549.2" stroke-width="1.66"/>
<path d="M563.7 544.6L583.7 548.3L581.9 553.7L569.2 552.8L563.7 544.6" stroke-width="1.66"/>
<path d="M591 552.8L595 554.8" stroke-width="1.41"/>
<path d="M590.1 555.2L593.7 556.7" stroke-width="1.41"/>
<path d="M561 546.5C561.7 548 562.3 553.1 565.5 555.6C568.7 558 574.3 560.2 580.1 561C585.8 561.8 594.3 561.2 600.1 560.3C605.9 559.4 612.2 556.4 614.7 555.6" stroke-width="1.66"/>
<path d="M547.3 551.9C548.8 553.1 551.9 556.8 556.4 559.2C561 561.6 569.2 564.8 574.6 566.5C580.1 568.2 586.8 568.9 589.2 569.4" stroke-width="1.66"/>
<path d="M538.2 568.3C541.2 568.3 550.3 568 556.4 568.3C562.5 568.6 569.5 569.5 574.6 570.1C579.8 570.7 584.3 570.7 587.4 571.9C590.4 573.2 591.9 576.5 592.8 577.4" stroke-width="1.66"/>
<path d="M600.1 557.4C601.3 557.3 605 557.3 607.4 557C609.8 556.7 613.5 555.8 614.7 555.6" stroke-width="1.66"/>
<path d="M520 553.7C521.8 554.3 528.2 556.2 530.9 557.4C533.7 558.6 535.6 558.6 536.4 561C537.1 563.5 535.8 568.8 535.5 571.9C535.2 575.1 534.7 578.6 534.6 580" stroke-width="1.66"/>
<path d="M520 571.9L529.1 580" stroke-width="1.66"/>
<path d="M536.4 561L550 549.2" stroke-width="1.66"/>
<path d="M630.1 548.3L630.5 551.2" stroke-width="1.41"/>
</g>
<g><!-- 28_rails2 -->
<path d="M612.9 565.5C609.2 567.8 600.7 572.9 591 579.1C581.3 585.4 565.2 595.1 554.6 602.8C544 610.5 531.9 621.5 527.3 625.2" stroke-width="2.18"/>
<path d="M614.3 571.3C610.4 574 599.5 581.8 591 587.7C582.6 593.6 571.8 600.6 563.7 606.4C555.6 612.3 545.8 620.1 542.2 622.8" stroke-width="1.79"/>
<path d="M619.2 575.5C614.5 579 600.3 589.8 591 596.8C581.8 603.8 568.3 613.9 563.7 617.4" stroke-width="1.79"/>
<path d="M620.2 580.4C615.9 583.8 603.5 593.8 594.7 600.4C585.9 607.1 571.9 616.8 567.4 620.1" stroke-width="1.66"/>
<path d="M621.6 585.1C617.7 588 606.7 596.3 598.3 602.3C589.9 608.3 575.6 618 571 621.2" stroke-width="1.66"/>
<path d="M537.3 567.7C540.2 567.9 548.7 568.2 554.6 568.8C560.5 569.3 567.7 570.3 572.8 570.9C578 571.6 583.4 572.2 585.6 572.4" stroke-width="1.54"/>
<path d="M585.6 572.4L591 577.3" stroke-width="1.54"/>
<path d="M585.6 572.4L589.2 570" stroke-width="1.54"/>
<path d="M589.2 570C591.3 568.8 598.2 564.8 601.9 562.8C605.7 560.7 610.3 558.7 612 557.8" stroke-width="1.54"/>
</g>
<g><!-- 29_misc -->
<path d="M300.4 510.1L299.7 526.5" stroke-width="1.54"/>
<path d="M333.9 502.8L332.4 517.7" stroke-width="1.54"/>
<path d="M297.3 508.3C296.2 510.1 293.3 516.1 290.9 519.2C288.6 522.3 284.6 525.6 283.3 526.9" stroke-width="1.54"/>
<path d="M349.2 509.4L349.2 513" stroke-width="1.54"/>
<path d="M381.9 503.7L381.9 510.1L396.5 507.9L397.6 512.3" stroke-width="1.54"/>
<path d="M402 508.6C404.7 508.5 413.7 506.6 418.4 507.6C423 508.5 428.1 513 430 514.1" stroke-width="1.54"/>
</g>
<g><!-- 30_xm -->
<path d="M190.1 522.9C198.4 525.9 223.4 535.1 240.1 541.1C256.8 547.1 272.5 552.2 290 558.7C307.5 565.2 326.7 573.2 345 580.4C363.3 587.6 386.4 596.2 400 602.1C413.6 608 415.9 610.7 426.4 615.5C436.9 620.3 453.1 626.9 462.8 631C472.5 635.1 478.6 637.6 484.7 640C490.8 642.4 494.4 644.4 499.2 645.5C504 646.6 508.8 646.4 513.8 646.6C518.8 646.8 526.7 646.6 529.3 646.6" stroke-width="2.56"/>
<path d="M194.6 529.3C202.2 532.4 224.1 541.5 240 548C255.9 554.5 272.5 560.9 290 568C307.5 575.1 326.7 582.9 345 590.4C363.3 597.9 386.4 607.4 400 612.8C413.6 618.2 418 619.5 426.4 622.8C434.8 626.1 444 630.8 450.1 632.8C456.2 634.8 458.9 633.4 462.8 634.6C466.7 635.8 470.7 637.8 473.7 640.1C476.7 642.4 480.7 646.2 481 648.3C481.3 650.4 478.6 651.9 475.6 652.8C472.6 653.7 464.9 653.6 462.8 653.7" stroke-width="3.33"/>
<path d="M200.1 539.3C215.1 546 256.7 565.3 290 579.4C323.3 593.5 377.9 614.8 400 624.1C422.1 633.5 419 633.6 422.8 635.5" stroke-width="1.41"/>
<path d="M202.8 543C217.3 549.5 257.1 568 290 582C322.9 596 378.2 617.4 400 626.8C421.8 636.2 417.4 636.4 420.9 638.3" stroke-width="1.41"/>
<path d="M196.4 551.1C212 557.7 256.1 576.6 290 590.7C323.9 604.8 378.5 626.8 400 635.5C421.5 644.2 415.8 641.8 419 643" stroke-width="4.48"/>
<path d="M201 562C215.8 568.1 256.8 585 290 598.7C323.2 612.4 380.5 635.9 400 644.1C419.5 652.3 405.8 647.2 407 647.8" stroke-width="1.54"/>
<path d="M198.3 569.3C213.6 575.5 261.4 595 290 606.8C318.6 618.6 351.7 632.5 370 640C388.3 647.5 393.8 649.3 400 652C406.2 654.7 405.8 655.3 407 656" stroke-width="1.54"/>
</g>
<g><!-- 31_c1 -->
<path d="M174.6 581.5L198.6 571.3L240.5 589.2L218.3 597.6L174.6 581.5" stroke-width="1.66" stroke-dasharray="7,2.5,2,2.5"/>
<path d="M170.9 581.9L198.3 567.7L243.4 585.2" stroke-width="1.79"/>
<path d="M171.9 582.1L176.4 584.8" stroke-width="1.54"/>
<path d="M242.5 512L241.9 533.8" stroke-width="2.18"/>
<path d="M241.9 536.6L241.9 543.9" stroke-width="2.18"/>
<path d="M241.6 547.5L241.2 588.5" stroke-width="2.18"/>
<path d="M167.3 583.4C176.1 586.4 206.4 596.7 220.1 601.6C233.8 606.4 237.6 608.2 249.2 612.5C260.9 616.7 283.2 624.6 290 627.1" stroke-width="2.05"/>
<path d="M247.4 611.8L255.8 608.5L290 621.2" stroke-width="1.66"/>
<path d="M249.2 613.9L290 628.9" stroke-width="1.54"/>
<ellipse cx="279.3" cy="621.2" rx="2.2" ry="1.3" stroke-width="1.66"/>
</g>
<g><!-- 32_c2 -->
<path d="M328.2 539.5L339.5 534.6L362.3 543.7L351 549.5L329.3 540.2" stroke-width="1.92"/>
<path d="M338.8 550.6L344.6 547.7" stroke-width="1.66"/>
<path d="M328.2 539.5L328 581.2" stroke-width="2.3"/>
<path d="M327.7 583.9L327.9 592.1" stroke-width="2.3"/>
<path d="M327.9 594.8L328.2 631.2" stroke-width="2.3"/>
<ellipse cx="321.3" cy="584.5" rx="0.5" ry="0.5" stroke-width="1.28"/>
<path d="M329.1 631.8L341 626.7L361 636.2L350.1 641.6L329.1 632.5" stroke-width="1.66" stroke-dasharray="6,2.5"/>
<path d="M304.6 596.7L311.8 593.9L318.2 595.7L309.1 600.3Z" style="fill:#fff;stroke:none"/>
<path d="M304.6 596.7L311.8 593.9L318.2 595.7L309.1 600.3L304.6 596.7" stroke-width="1.54"/>
<ellipse cx="332.8" cy="602.1" rx="2.2" ry="1.3" stroke-width="1.54"/>
<path d="M290 621.2L309.1 629.4L305.5 634L290 628.5" stroke-width="1.66"/>
<path d="M290 630.3C293 631.5 296.1 633.1 308.2 637.6C320.3 642.2 350.7 653.1 362.8 657.6C375 662.2 377.1 662.8 381 664.9C385 667 385.6 669.5 386.5 670.4" stroke-width="2.05"/>
<path d="M290 633.6C293 634.8 296.1 636.3 308.2 640.9C320.3 645.4 351.3 656.6 362.8 660.9C374.3 665.2 375 665.8 377.4 666.7" stroke-width="1.54"/>
<path d="M290 643.1C290.6 643.5 292.7 644.5 293.6 645.8C294.6 647.1 295.3 648.7 295.5 650.7C295.6 652.8 295.5 655.6 294.6 658C293.6 660.4 290.8 664.1 290 665.3" stroke-width="1.66"/>
<path d="M290 646.7C290.4 647.3 291.9 648.5 292.2 650.4C292.5 652.2 291.9 656.4 291.8 657.6" stroke-width="1.66"/>
<ellipse cx="404.3" cy="669.7" rx="9.1" ry="4.4" stroke-width="1.92"/>
<ellipse cx="404.3" cy="668.2" rx="6.9" ry="3.1" stroke-width="1.66"/>
<path d="M380.1 666.7L406.5 655.8" stroke-width="1.79"/>
<path d="M380.1 666.7L384.7 672.2L395.6 676.2L413.8 676.9L428.4 670.7L437.5 666.7L435.6 655.8" stroke-width="1.79"/>
<path d="M384.7 672.2L385.6 675.8L397.4 680.4L415.6 680.4L430.2 674L437.8 669.7L437.5 666.7" stroke-width="1.54"/>
<ellipse cx="387.4" cy="682.2" rx="1.8" ry="1.3" stroke-width="1.66"/>
<path d="M386.5 670.4C387.4 671.7 390.1 675.9 391.9 678C393.8 680.2 395.3 682.6 397.8 683.1C400.2 683.7 402 682.5 406.5 681.3C411 680.1 419.1 677.6 424.7 675.8C430.3 674.1 437.5 671.6 440 670.7" stroke-width="1.66"/>
</g>
<g><!-- 33_r -->
<path d="M390 613.7C396.1 616.3 416.4 625.1 426.4 629.2C436.4 633.2 444.6 635.8 450.1 638.3C455.5 640.7 455.2 641.7 459.2 643.7C463.1 645.7 471.3 649 473.7 650.1" stroke-width="1.54"/>
<ellipse cx="457.7" cy="650.3" rx="6.4" ry="2.7" stroke-width="1.79"/>
<ellipse cx="457.7" cy="650.3" rx="3.6" ry="1.5" stroke-width="1.54"/>
<path d="M438.2 652.1C442.3 653.6 455.1 659.1 462.8 661.2C470.6 663.3 478.6 665 484.7 664.8C490.7 664.7 494.1 661.8 499.2 660.3C504.4 658.8 510.5 656.6 515.6 655.7C520.8 654.8 527.8 655 530.2 654.8" stroke-width="2.56"/>
<path d="M444.6 656.8C448.3 658 459.8 662.2 466.5 663.9C473.1 665.7 480.1 666.9 484.7 667.2C489.2 667.5 492.3 665.8 493.8 665.6" stroke-width="1.54"/>
<path d="M441 649.9 L450.1 653.2" stroke-width="1.54"/>
<ellipse cx="482.3" cy="658.3" rx="2.9" ry="1.5" stroke-width="2.82"/>
<ellipse cx="505.6" cy="649.2" rx="2.5" ry="1.3" stroke-width="2.05"/>
<ellipse cx="518.3" cy="648.3" rx="0.7" ry="0.5" stroke-width="2.05"/>
<ellipse cx="526.9" cy="647.7" rx="1.1" ry="0.9" stroke-width="2.56"/>
<path d="M481.9 649.2L497.4 650.3L501.4 646.6" stroke-width="1.54"/>
<path d="M407.3 661.9L419.1 641.2L426.4 638.3L439.2 643L441.9 649.2" stroke-width="1.79"/>
<path d="M410.9 663L422.8 642.3" stroke-width="1.66"/>
<path d="M429.1 664.1L439.2 648.5" stroke-width="1.66"/>
<path d="M439.2 652.5L438.8 660.1L429.1 667.7L425.5 667.4" stroke-width="1.79"/>
<ellipse cx="433.7" cy="642.8" rx="0.5" ry="0.5" stroke-width="1.79"/>
<ellipse cx="436.6" cy="643.9" rx="0.5" ry="0.5" stroke-width="1.79"/>
</g>
<g><!-- 34_lmount -->
<ellipse cx="164.7" cy="494" rx="9.1" ry="4.6" stroke-width="2.56" transform="rotate(-5 164.7 494)"/>
<ellipse cx="163.5" cy="494.6" rx="5.1" ry="2.7" stroke-width="1.92" transform="rotate(-5 163.5 494.6)"/>
<ellipse cx="162.4" cy="495" rx="2.2" ry="1.2" stroke-width="1.66"/>
<path d="M150.2 495.2L157.5 498.2" stroke-width="1.28"/>
<path d="M150.8 497L158.1 500" stroke-width="1.28"/>
<path d="M151.4 498.8L158.7 501.6" stroke-width="1.28"/>
<path d="M173.8 490.3C175.3 491 180.1 492.6 182.3 494.6C184.6 496.5 186 499 187.2 501.8C188.4 504.7 188.9 508.2 189.6 511.6C190.3 514.9 191.1 520.1 191.4 521.9" stroke-width="1.92"/>
<path d="M171.4 491.8C172.9 492.5 178.2 494.1 180.5 496C182.8 497.9 184.2 500.3 185.4 503.1C186.6 505.8 187.1 509.5 187.8 512.8C188.5 516 189.3 520.9 189.6 522.5" stroke-width="1.66"/>
<path d="M158.1 500C159.1 500.9 163 503.6 164.1 505.5C165.3 507.4 165.1 509.9 164.9 511.6C164.7 513.2 164.9 513.9 162.9 515.2C161 516.5 155.9 518 153.2 519.4C150.5 520.9 148 522 146.5 523.7C145 525.4 144.2 527.9 144.1 529.8C144 531.6 144.6 533.1 145.9 534.6C147.2 536.1 148.6 537.2 152 538.9C155.4 540.5 163.3 543.1 166.6 544.3C169.8 545.5 170.6 545.8 171.4 546.1" stroke-width="2.05"/>
<path d="M159.9 501.8C160.9 502.6 164.9 504.4 165.9 506.1C167 507.8 166.6 510.4 166.3 512.2C166 513.9 166.1 515 164.1 516.4C162.1 517.8 157 519.3 154.4 520.7C151.8 522 149.7 523.1 148.3 524.7C147 526.2 146.3 528.3 146.2 529.8C146.1 531.3 146.6 532.4 147.7 533.6C148.9 534.9 150 535.8 153.2 537.3C156.4 538.8 164.8 541.6 167.2 542.5" stroke-width="1.79"/>
<path d="M147.1 535.2C148.1 535.7 149.9 536.9 153.2 538.3C156.5 539.6 164.5 542.5 166.8 543.3" stroke-width="1.54"/>
<ellipse cx="180.5" cy="519.1" rx="3.6" ry="1.7" stroke-width="1.79"/>
<ellipse cx="156.2" cy="527.9" rx="3.6" ry="1.7" stroke-width="1.79"/>
<ellipse cx="175.7" cy="538.3" rx="6.1" ry="3.3" stroke-width="2.3"/>
<ellipse cx="175.7" cy="538.5" rx="3.4" ry="1.8" stroke-width="1.79"/>
<path d="M192 522.7C190.6 523.1 186.4 524.3 183.5 525.1C180.7 526 177.7 526.8 175 527.6C172.4 528.3 169.4 528.7 167.8 529.5C166.1 530.3 165.4 531.3 165.1 532.4C164.8 533.5 165.1 534.9 165.9 536.1C166.8 537.3 169.5 539.1 170.2 539.7" stroke-width="1.92"/>
<path d="M203 534.9C201.1 534.1 194.7 531.3 192 530.4C189.4 529.4 190 529 187.2 529.2C184.4 529.3 177.9 530.3 175 531C172.2 531.7 171.3 532.5 170.2 533.4C169.1 534.3 168.4 535.2 168.4 536.4C168.4 537.6 168.9 539.6 170.2 540.7C171.5 541.7 174.2 542.6 176.3 542.6C178.3 542.6 181.3 541 182.3 540.7" stroke-width="1.92"/>
<path d="M183.5 539.5C184.4 539.1 186.8 537.4 188.4 537C190 536.6 190.8 536.4 193.3 537C195.7 537.6 198.5 539 203 540.7C207.4 542.4 214.6 545.3 220 547.4C225.3 549.4 232.5 552.1 235 553.1" stroke-width="1.54"/>
<path d="M186 542.1C186.8 541.7 189.2 540 190.8 539.7C192.4 539.4 191.6 538.8 195.7 540.2C199.7 541.6 208.5 545.3 215.1 548C221.7 550.6 231.7 554.6 235 556" stroke-width="1.54"/>
<path d="M175 543.1C174.4 543.9 173.2 544.5 171.4 548C169.6 551.4 166.1 560.7 164.1 563.7C162.1 566.8 161.1 565.5 159.3 566.2C157.5 566.9 154.2 567.7 153.2 568" stroke-width="2.3"/>
<path d="M177.5 544C176.9 544.9 175.6 546 173.8 549.4C172.1 552.8 168 561.8 166.8 564.2" stroke-width="1.66"/>
<path d="M193.3 554.3L182.3 572.2" stroke-width="1.92"/>
<path d="M183.5 543.1L192 548L200.5 551.8" stroke-width="1.66"/>
<path d="M165.3 565L182.3 571.7" stroke-width="1.54"/>
<ellipse cx="191.4" cy="546.5" rx="0.6" ry="0.5" stroke-width="1.92"/>
<ellipse cx="193.5" cy="548.1" rx="0.6" ry="0.5" stroke-width="1.92"/>
<ellipse cx="203.6" cy="551.4" rx="2.7" ry="1.2" stroke-width="1.79"/>
<ellipse cx="162.3" cy="572.8" rx="10.3" ry="4.9" stroke-width="2.43"/>
<ellipse cx="162.3" cy="571.6" rx="7.5" ry="3.4" stroke-width="1.92"/>
<path d="M142.3 574.7L150.8 568.6L153.2 568" stroke-width="1.92"/>
<path d="M142.3 574.7L143.5 577.1L161.7 583.2L175 578.3L183.5 573L182.3 571.7" stroke-width="1.92"/>
<path d="M143.5 577.1L144.1 579.8L162.3 585.8L176.3 581L192 571.6" stroke-width="1.66"/>
<path d="M142.3 574.7C141.5 575.7 138.4 578.9 137.4 580.7C136.4 582.6 136.4 585 136.2 585.8" stroke-width="1.79"/>
<ellipse cx="145.9" cy="586.4" rx="2.3" ry="1.5" stroke-width="1.66"/>
</g>
<g><!-- 40_d -->
<path d="M247.7 611.8L254.1 608.2L311.1 629.1L304.1 633.7" stroke-width="1.66"/>
<ellipse cx="279.2" cy="621.5" rx="2.5" ry="1.5" stroke-width="1.66"/>
<path d="M217.3 635.5C217.9 634.4 219.3 630.9 220.9 629.1C222.6 627.4 225.2 626.3 227.3 625.1C229.4 623.9 232.6 622.4 233.7 621.8" stroke-width="1.79"/>
<path d="M218.2 639.1C219 638.1 221.2 634.4 222.8 632.8C224.3 631.1 226.5 629.7 227.3 629.1" stroke-width="1.66"/>
<path d="M233.7 621.8L239.1 622.8L295.6 646.4" stroke-width="2.3"/>
<path d="M227.3 628.4L233.1 627.3L291 650.2L295.6 646.4" stroke-width="1.54"/>
<path d="M229.1 631.9L251.9 640.4" stroke-width="1.54"/>
<path d="M262.8 644.6L290.7 654.6" stroke-width="1.54"/>
<path d="M295.6 646.4L297.6 652.8L297.4 671.4" stroke-width="1.79"/>
<path d="M225.5 630L227.3 654.6L226 656.8" stroke-width="1.79"/>
<path d="M223.7 652.8L222.8 672.8L220 673.7" stroke-width="1.66"/>
<path d="M225.5 655.7C230.3 657.6 245.5 663.7 254.6 667.4C263.7 671 275.9 675.9 280.1 677.6" stroke-width="3.33"/>
<path d="M227.3 652.4 L251.9 662.3" stroke-width="1.54"/>
<path d="M262.8 666.4 L280.1 673.2" stroke-width="1.54"/>
<path d="M223.7 660.1C228.8 662.1 245.8 668.7 254.6 672.1C263.4 675.5 272.8 679.1 276.5 680.5" stroke-width="1.54"/>
<path d="M252.8 639.1C253.4 638.7 254.9 636.7 256.4 636.4C258 636.2 260.8 636.7 261.9 637.7C263 638.7 263.1 637.9 263 642.2C262.9 646.6 262 659.7 261.2 663.7C260.4 667.8 259.5 666.4 258.3 666.6C257 666.8 254.9 666.8 253.9 664.8C252.8 662.8 252.1 658.9 251.9 654.6C251.7 650.3 252.6 641.7 252.8 639.1" stroke-width="1.79"/>
<path d="M280.1 654.6L291 652.1" stroke-width="1.66"/>
<path d="M280.1 654.6L281 677.2" stroke-width="1.66"/>
<path d="M290.5 653.2L294.7 671.9L296.9 673.2" stroke-width="1.66"/>
<path d="M220 673.7C224.3 675.2 236.7 679.6 245.5 682.8C254.3 686 266.9 690.1 272.8 692.8C278.7 695.6 279.6 698.3 281 699.4" stroke-width="1.79"/>
<path d="M281 699.4L283 692.5L280.1 689.2" stroke-width="1.66"/>
<path d="M222.8 672.8C225 673.7 229.9 676.1 236.4 678.3C242.9 680.5 255.8 683.8 261.9 685.9C268 688.1 271 690.2 272.8 691" stroke-width="1.54"/>
<path d="M229.1 673.7L229.1 667.7L231.1 665.9L233.1 668.1L233.1 675" stroke-width="1.54"/>
<path d="M261.9 681.9L272.8 678.3L287.4 674.6" stroke-width="1.79"/>
<path d="M287.4 674.6C292.5 676.5 307.9 682.2 318.3 685.6C328.8 689 344.7 693.5 350 695" stroke-width="1.79"/>
<path d="M261.9 681.9C265.2 683.1 274 686.8 281.9 689.2C289.8 691.6 303.2 694.8 309.2 696.5C315.3 698.2 315.9 699.1 318.3 699.4C320.8 699.7 322.9 698.5 323.8 698.3" stroke-width="1.79"/>
<path d="M323.8 698.3L327.4 703.8L338.4 707.4L350 706.7" stroke-width="1.79"/>
<path d="M269.2 680.1L278.3 684.1L283 692.5" stroke-width="1.66"/>
<ellipse cx="286.5" cy="681.6" rx="2.2" ry="1.3" stroke-width="1.92"/>
<ellipse cx="313.8" cy="688.3" rx="2.5" ry="1.5" stroke-width="2.05"/>
<ellipse cx="335.1" cy="699.8" rx="2.5" ry="1.5" stroke-width="1.66"/>
<ellipse cx="342.9" cy="704.1" rx="0.9" ry="0.7" stroke-width="1.79"/>
<path d="M319.2 665.5L323.8 661L338.4 664.6L327.4 676.5L322 680.1L319.2 672.8L319.2 665.5" stroke-width="1.92"/>
<path d="M322 663.7C322.6 664.6 324.7 667.1 325.6 669.2C326.5 671.3 327.1 675.2 327.4 676.5" stroke-width="1.54"/>
<path d="M323.8 662.8L335.6 665.9" stroke-width="1.54"/>
<ellipse cx="327.4" cy="663.7" rx="2.9" ry="1.5" stroke-width="1.54"/>
<path d="M297.6 652.8C301.9 654.4 315.1 659 323.8 662.3C332.5 665.5 345.6 670.5 350 672.1" stroke-width="1.66"/>
<path d="M221.1 754C220.9 753.8 220 753 220 752.6C220.1 752.1 221.2 751.3 221.5 751.1" stroke-width="1.79"/>
<path d="M221.5 751.1L251.9 734.4L269.2 743.8L238.6 763.8L221.1 754" stroke-width="1.79"/>
<path d="M268.8 743.8L268.8 789.9" stroke-width="1.92"/>
<path d="M242.2 762L247.7 766" stroke-width="1.79"/>
<path d="M242.8 762.4L245.9 761.7" stroke-width="1.54"/>
<path d="M296.9 673.2C300.4 674.5 309.5 678 318.3 681.2C327.2 684.3 344.7 690.3 350 692.1" stroke-width="2.3"/>
<path d="M296.9 675.7C300.4 677.1 309.5 680.6 318.3 683.7C327.2 686.9 344.7 692.8 350 694.7" stroke-width="1.54"/>
</g>
<g><!-- 41_e -->
<path d="M350 691.4 L371 700.1" stroke-width="2.3"/>
<path d="M350 693.5 L369.1 701.6" stroke-width="1.54"/>
<path d="M371 700.1L374.6 696.5L382.8 692.1L391.9 689.4L399.2 681.9L402.8 676.8" stroke-width="1.92"/>
<path d="M330 691.4C333 692.6 342.3 696.3 348.2 698.6C354.1 701 362.6 704.4 365.5 705.6" stroke-width="1.66"/>
<path d="M365.5 705.6L371.9 700.5" stroke-width="1.66"/>
<path d="M330 708.3C331.8 708.4 336.1 709.7 340.9 709.2C345.8 708.7 354.9 706 359.1 705.6C363.4 705.1 365.2 706.5 366.4 706.7" stroke-width="1.66"/>
<ellipse cx="334.6" cy="699.6" rx="2.2" ry="1.3" stroke-width="1.66"/>
<ellipse cx="342.7" cy="703.7" rx="0.7" ry="0.5" stroke-width="1.79"/>
<ellipse cx="387.3" cy="682.3" rx="2.2" ry="1.6" stroke-width="1.66"/>
<path d="M337.3 666.4L384.6 683.7" stroke-width="1.41"/>
<path d="M330 665.5C331.5 665.2 338.2 662.8 339.1 663.7C340 664.6 337 669.2 335.5 671C333.9 672.8 330.9 674 330 674.6" stroke-width="1.66"/>
</g>
<g><!-- 42_panelL -->
<path d="M133.7 586.4C134.3 585.7 135.8 583.7 137.3 582.4C138.8 581 141.4 579.8 142.8 578.2C144.1 576.6 145 573.6 145.5 572.7" stroke-width="1.79"/>
<path d="M134 586C139.1 587.9 153.4 593.2 164.6 597.3C175.8 601.5 190.7 607 201 611C211.3 614.9 222.3 619.3 226.5 621" stroke-width="1.92"/>
<path d="M133.3 587.3C133.7 589.3 134.7 595 135.5 599.1C136.3 603.2 137.9 607.6 138.2 611.9C138.5 616.1 137 622 137.3 624.6C137.6 627.2 139.6 627 140 627.5" stroke-width="1.92"/>
<ellipse cx="146.4" cy="586.4" rx="2.2" ry="1.5" stroke-width="1.66"/>
<path d="M139.1 611.1C143.4 612.8 155.8 617.8 164.6 621.3C173.4 624.9 182.2 628.4 191.9 632.3C201.6 636.1 217.7 642.6 222.9 644.6" stroke-width="2.43"/>
<path d="M139.1 613.7C143.4 615.4 155.8 620.4 164.6 623.9C173.4 627.4 182.8 631 191.9 634.8C201 638.6 214.7 644.5 219.2 646.5" stroke-width="1.66"/>
<path d="M140 627.5C141.7 628.4 147.5 631.8 150.1 632.8C152.6 633.8 154.6 633.6 155.5 633.7" stroke-width="1.79"/>
<path d="M155.5 633.7L158.2 638.5" stroke-width="1.79"/>
<path d="M158.2 638.5C160.8 639.5 167.5 641.8 173.7 644.6C179.9 647.5 191 653.6 195.6 655.6C200.1 657.6 198.3 657.1 201 656.7C203.8 656.2 208.2 654.5 211.9 653C215.6 651.5 221.4 648.5 223.2 647.6" stroke-width="1.79"/>
<path d="M172.8 638.8L178.8 634.1L222.1 648.6" stroke-width="1.79"/>
<path d="M172.8 638.8L195.6 647.9" stroke-width="1.54"/>
<ellipse cx="146.4" cy="625.5" rx="0.9" ry="0.7" stroke-width="1.92"/>
<ellipse cx="157.7" cy="629.2" rx="2.5" ry="1.5" stroke-width="1.79"/>
<ellipse cx="185.6" cy="637" rx="1.3" ry="0.9" stroke-width="2.56"/>
<ellipse cx="202.8" cy="647.9" rx="1.6" ry="1.1" stroke-width="2.56"/>
<path d="M204.7 655.9L220.3 674.9" stroke-width="1.79"/>
<path d="M223.2 647.6L221.4 674.1" stroke-width="1.79"/>
<path d="M184.6 611L190.1 607.3L204.7 612.8L190.1 630.1L185.6 624.6L184.6 611" stroke-width="1.92"/>
<path d="M187.4 611C187.6 612.6 188.2 617.8 188.6 621C189.1 624.2 189.9 628.6 190.1 630.1" stroke-width="1.66"/>
<path d="M191 624.6L201.9 613.7" stroke-width="1.54"/>
<ellipse cx="194.1" cy="613" rx="3.6" ry="1.8" stroke-width="1.66"/>
<path d="M188.3 609.1C188.7 610.2 190.7 612.9 191 615.5C191.3 618.1 190.3 623.1 190.1 624.6" stroke-width="1.66"/>
</g>
<g><!-- 50_batt -->
<path d="M162.8 854L247 806.1" stroke-width="1.92"/>
<path d="M247 806.1C247.2 805.8 247.7 804.9 248.6 804.4C249.5 804 251.4 803.5 252.5 803.6C253.6 803.8 254.8 805 255.2 805.3" stroke-width="1.79"/>
<path d="M276.3 818.9L305.8 837L308 840.8" stroke-width="1.92"/>
<path d="M308 840.8L224.3 887L219.7 887.4L162.8 857.1L162.8 854" stroke-width="1.92"/>
<path d="M162.8 859.1L219.1 891.5L224.3 891.1L308 844.5L308 840.8" stroke-width="1.66"/>
<path d="M222.2 883.9L303.7 839.1" stroke-width="1.54"/>
<path d="M162.8 857.1L162.8 859.1" stroke-width="1.54"/>
<path d="M163.6 860.1L164.4 922L220.1 955.1" stroke-width="1.92"/>
<path d="M220.1 891.5L221.2 955.1" stroke-width="1.92"/>
<path d="M221.2 955.1L303.7 905.9" stroke-width="1.92"/>
<path d="M307.2 844.9L303.9 889L303.9 906.6" stroke-width="1.92"/>
<path d="M222.6 949.3L303.5 903.1" stroke-width="3.84"/>
<path d="M222.2 932.4L303.7 888.2" stroke-width="1.66"/>
<path d="M223.4 932.8L223.9 949.9" stroke-width="1.79"/>
<path d="M239.1 924.5L240 942.7" stroke-width="3.07"/>
<path d="M262.6 911.7L263.5 928.6" stroke-width="3.07"/>
<path d="M285.1 899.3L286.2 915" stroke-width="3.07"/>
<path d="M302.7 889.4L303.1 903.9" stroke-width="2.05"/>
<path d="M301.6 891.1C302 892.1 303.6 895.2 303.7 897.3C303.8 899.3 302.5 902.4 302.3 903.5" stroke-width="1.79"/>
<path d="M191.3 867.4C191.7 865 191.8 857.3 193.9 852.9C196.1 848.5 200.4 844.2 204.1 841C207.7 837.7 208.6 837.9 216 833.3C223.4 828.8 241.9 817.5 248.4 813.7C254.9 809.9 254.1 811 255.2 810.4" stroke-width="1.92"/>
<path d="M196.4 869.8C196.7 867.6 196.1 860.5 198.3 856.2C200.4 852 205.7 847.7 209.2 844.5C212.8 841.2 211 841.6 219.5 836.8C228 832 253.4 819.1 260.2 815.6" stroke-width="1.92"/>
<path d="M214.4 833.3L248.4 812.1L255.2 815.6L221.2 837.7L216 836.8L214.4 833.3" stroke-width="2.56"/>
<path d="M243.3 810.4C244.4 809.8 247.8 807.3 250.1 806.9C252.3 806.5 254.9 807.4 256.9 807.9C258.8 808.5 261 810 261.8 810.4" stroke-width="1.79"/>
<path d="M257.7 814.6C258.2 814.7 259.9 814.7 260.6 815.2C261.3 815.6 261.8 816.9 262 817.2" stroke-width="3.84"/>
<path d="M191.3 867.4L196.4 869.8" stroke-width="1.66"/>
<path d="M196.4 869.8C196.6 871.3 196.4 876.4 197.5 878.7C198.5 881.1 201.8 883 202.6 883.9" stroke-width="1.79"/>
<ellipse cx="184.7" cy="849.8" rx="3.7" ry="1.9" stroke-width="1.66"/>
<path d="M180.9 849.8L180.9 855.6" stroke-width="1.66"/>
<path d="M188.4 849.8L188.4 856" stroke-width="1.66"/>
<path d="M178.9 855.6C179.7 856.1 182.2 858.4 184 858.5C185.9 858.6 189.2 856.8 190.2 856.4" stroke-width="1.66"/>
<path d="M178.9 855.6 L180.9 853.5" stroke-width="1.66"/>
<path d="M178.5 857.1L177.2 865.3L183 868.4L189.2 866.3L190.2 857.7" stroke-width="1.66"/>
<path d="M164.6 860.6C165.6 861.8 168.5 865.6 170.6 868C172.8 870.4 174.9 872.7 177.6 875C180.4 877.3 183.1 879.4 187.1 881.6C191.1 883.8 196.6 886.5 201.6 888.4C206.6 890.3 214.6 892.2 217.3 893" stroke-width="4.61"/>
<path d="M166.5 860.1C167.5 861.5 170.3 865.8 172.7 868C175.1 870.2 177.5 871.5 180.9 873.6C184.4 875.6 191.3 879.2 193.3 880.4" stroke-width="1.79"/>
<path d="M177.9 872.5L181.4 874.4L181.4 877.7L177.9 875.8Z" style="fill:#fff;stroke:none"/>
<path d="M183.6 875.4L187.1 877.3L187.1 880.6L183.6 878.7Z" style="fill:#fff;stroke:none"/>
<path d="M188.8 878.3L192.3 880.2L192.3 883.5L188.8 881.6Z" style="fill:#fff;stroke:none"/>
<path d="M194.6 881.2L198.3 883L198.3 886.3L194.6 884.5Z" style="fill:#fff;stroke:none"/>
<path d="M202.6 883.9L211.9 888.6L218.1 890.7" stroke-width="2.3"/>
<path d="M221.2 859.1L250.5 840.5L268.8 849.8L239.1 870L221.2 859.1" stroke-width="1.79" stroke-dasharray="8.5,3.5"/>
<path d="M268.8 800.5L268.8 809.8" stroke-width="2.18"/>
<path d="M268.8 817.4L268.8 849.8" stroke-width="1.54"/>
<path d="M276.3 817.2L276.3 808.6L281.2 807.5L284.1 819.3" stroke-width="1.79"/>
<path d="M275.9 839.5C276.5 839.9 279.4 840.5 280 841.6C280.5 842.6 279.8 844.9 279.2 845.7C278.5 846.5 276.4 846 275.9 846.1" stroke-width="1.66"/>
</g>
</svg>
</body></html>
